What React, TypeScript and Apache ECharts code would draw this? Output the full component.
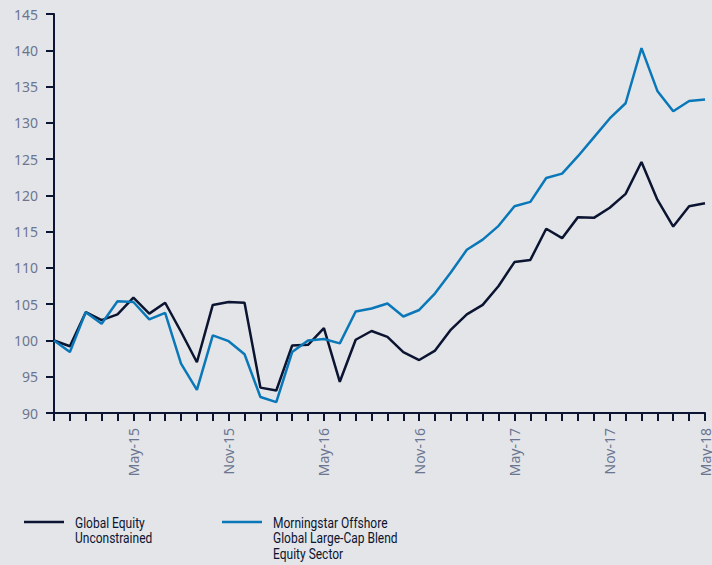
import React, { useEffect, useRef } from "react";
import * as echarts from "echarts";

const MONTHS = ["Jan", "Feb", "Mar", "Apr", "May", "Jun", "Jul", "Aug", "Sep", "Oct", "Nov", "Dec"];
// Dec-14 .. May-18 (monthly)
const categories: string[] = (() => {
  const out: string[] = [];
  let m = 11, y = 14;
  for (let i = 0; i < 42; i++) {
    out.push(`${MONTHS[m]}-${y}`);
    m++;
    if (m > 11) { m = 0; y++; }
  }
  return out;
})();

const globalEquity = [
  100.0, 99.2, 103.9, 102.8, 103.6, 105.9, 103.7, 105.2, 101.2, 97.0,
  104.9, 105.3, 105.2, 93.5, 93.1, 99.3, 99.4, 101.7, 94.3, 100.1,
  101.3, 100.5, 98.4, 97.3, 98.6, 101.5, 103.6, 104.9, 107.5, 110.8,
  111.1, 115.4, 114.1, 117.0, 116.9, 118.3, 120.2, 124.6, 119.4, 115.7,
  118.5, 118.9,
];

const morningstar = [
  100.0, 98.4, 103.9, 102.3, 105.4, 105.3, 102.9, 103.8, 96.8, 93.2,
  100.7, 99.9, 98.1, 92.2, 91.5, 98.4, 100.0, 100.2, 99.6, 104.0,
  104.4, 105.1, 103.3, 104.2, 106.5, 109.4, 112.5, 113.9, 115.8, 118.5,
  119.1, 122.4, 123.0, 125.4, 128.0, 130.6, 132.7, 140.3, 134.4, 131.6,
  133.0, 133.2,
];

const legendLines = [
  ["Global Equity", "Unconstrained"],
  ["Morningstar Offshore", "Global Large-Cap Blend", "Equity Sector"],
];
const seriesNames = legendLines.map((l) => l.join(" "));

const NAVY = "#0b1430";
const BLUE = "#0a78b8";
const LABEL = "#6b7590";
const FONT = "'Noto Sans', 'Open Sans', sans-serif";
const LEGEND_FONT = "Roboto, 'Noto Sans', sans-serif";

export default function App() {
  const ref = useRef<HTMLDivElement>(null);
  useEffect(() => {
    if (!ref.current) return;
    const chart = echarts.init(ref.current, undefined, { renderer: "svg" });
    const legendGraphics: any[] = [];
    const colors = [NAVY, BLUE];
    const xs = [24, 222];
    legendLines.forEach((lines, k) => {
      legendGraphics.push({
        type: "line",
        shape: { x1: xs[k], y1: 522, x2: xs[k] + 40, y2: 522 },
        style: { stroke: colors[k], lineWidth: 2.5 },
      });
      lines.forEach((t, j) => {
        legendGraphics.push({
          type: "text",
          x: xs[k] + 51,
          y: 522 + j * 15.5,
          scaleX: 0.8,
          style: {
            text: t,
            fill: NAVY,
            font: `15px ${LEGEND_FONT}`,
            verticalAlign: "middle",
          },
        });
      });
    });
    chart.setOption({
      animation: false,
      backgroundColor: "#e3e5e9",
      grid: { left: 54, right: 2, top: 14, bottom: 152, containLabel: false },
      xAxis: {
        type: "category",
        data: categories,
        boundaryGap: false,
        axisLine: { lineStyle: { color: NAVY, width: 2 } },
        axisTick: { show: true, interval: 0, length: 8, lineStyle: { color: NAVY, width: 2 } },
        axisLabel: {
          interval: (i: number) => i % 6 === 5,
          rotate: 90,
          margin: 15,
          color: LABEL,
          fontSize: 14,
          fontFamily: FONT,
        },
        splitLine: { show: false },
      },
      yAxis: {
        type: "value",
        min: 90,
        max: 145,
        interval: 5,
        axisLine: { show: true, lineStyle: { color: NAVY, width: 2 } },
        axisTick: { show: true, length: 8, lineStyle: { color: NAVY, width: 2 } },
        axisLabel: { color: LABEL, fontSize: 14, fontFamily: FONT, margin: 16 },
        splitLine: { show: false },
      },
      series: [
        {
          name: seriesNames[0],
          type: "line",
          data: globalEquity,
          symbol: "none",
          lineStyle: { color: NAVY, width: 2.5 },
          itemStyle: { color: NAVY },
        },
        {
          name: seriesNames[1],
          type: "line",
          data: morningstar,
          symbol: "none",
          lineStyle: { color: BLUE, width: 2.5 },
          itemStyle: { color: BLUE },
        },
      ],
      graphic: legendGraphics,
    });
    return () => chart.dispose();
  }, []);
  return (
    <div
      ref={ref}
      style={{ position: "fixed", left: 0, top: 0, width: 712, height: 565 }}
    />
  );
}
